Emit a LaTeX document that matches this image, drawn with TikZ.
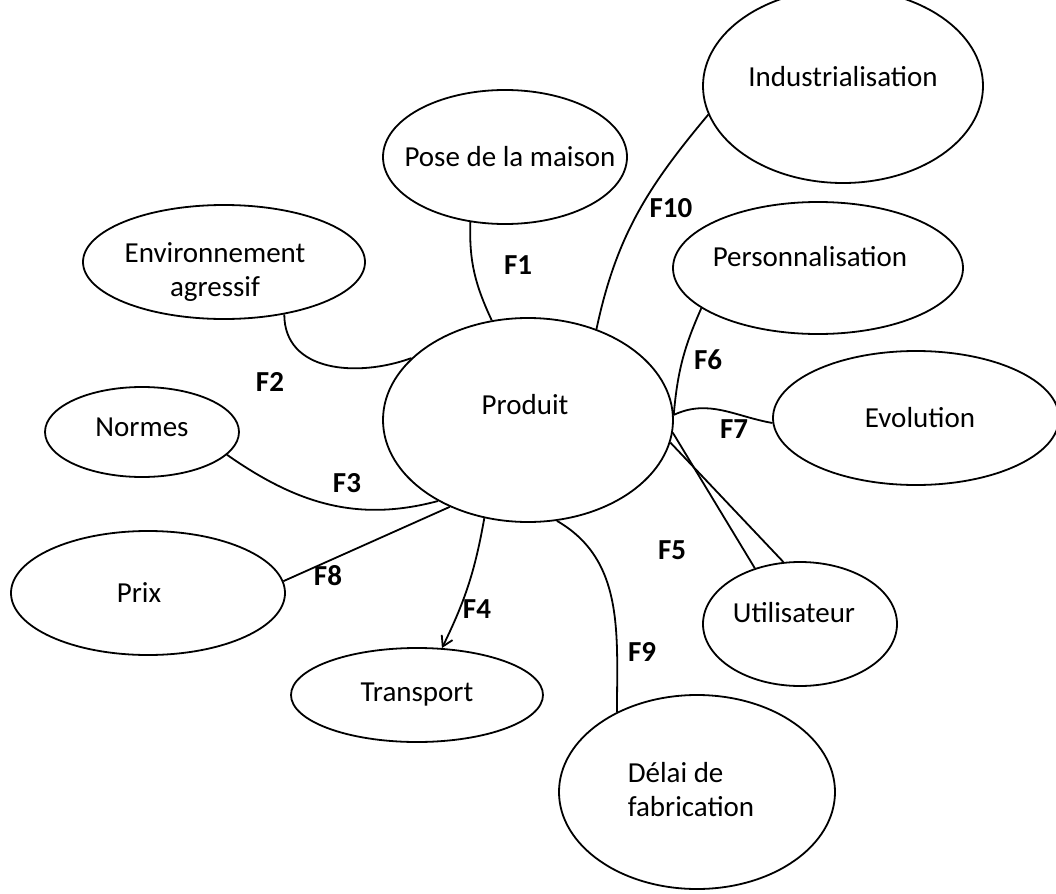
\documentclass[tikz,border=0pt]{standalone}
\usepackage{fontspec}
\setmainfont{Carlito}
\usetikzlibrary{shapes.geometric, arrows.meta}

\begin{document}
\begin{tikzpicture}
  [x=0.5pt, y=-0.5pt,
   every node/.style={font=\fontsize{14.5}{17}\selectfont},
   bubble/.style={draw, ellipse, inner sep=0pt, line width=0.9pt},
   fct/.style={font=\fontsize{14.5}{17}\selectfont\bfseries, inner sep=0pt},
   link/.style={line width=0.9pt}]
  \useasboundingbox (0,0) rectangle (1056,894);
  \clip (0,0) rectangle (1056,894);

  % bubbles
  \node[bubble, minimum width=145pt, minimum height=102pt,
        label={[xshift=-1.5pt, yshift=7.5pt]center:Produit}] (prod) at (528,420) {};
  \node[bubble, minimum width=122pt, minimum height=67pt,
        label={[xshift=2.5pt]center:Pose de la maison}] (pose) at (505,157) {};
  \node[bubble, minimum width=140pt, minimum height=97pt,
        label={[yshift=4.5pt]center:Industrialisation}] (indus) at (843,86) {};
  \node[bubble, minimum width=145pt, minimum height=66pt,
        label={[xshift=-4pt, yshift=5.5pt]center:Personnalisation}] (perso) at (818,268) {};
  \node[bubble, minimum width=141pt, minimum height=57pt,
        label={[xshift=-4.5pt, yshift=-5pt, align=center]center:Environnement\\agressif}] (env) at (224,262) {};
  \node[bubble, minimum width=97pt, minimum height=45pt,
        label={[yshift=2.5pt]center:Normes}] (normes) at (142,432) {};
  \node[bubble, minimum width=143pt, minimum height=67pt,
        label={[xshift=2pt]center:Evolution}] (evol) at (916,418) {};
  \node[bubble, minimum width=137pt, minimum height=62pt,
        label={[xshift=-4.5pt]center:Prix}] (prix) at (148,593) {};
  \node[bubble, minimum width=126pt, minimum height=47pt,
        label={center:Transport}] (transp) at (417,695) {};
  \node[bubble, minimum width=97pt, minimum height=62pt,
        label={[xshift=-3pt, yshift=5.5pt]center:Utilisateur}] (util) at (800,624) {};
  \node[bubble, minimum width=138pt, minimum height=97pt,
        label={[xshift=-3pt, yshift=1pt, align=left]center:D\'elai de\\fabrication}] (delai) at (697,792) {};

  % functions
  \node[fct] (f1) at (518,265) {F1};
  \node[fct] (f2) at (270,382) {F2};
  \node[fct] (f3) at (347,483) {F3};
  \node[fct] (f4) at (477,609) {F4};
  \node[fct] (f5) at (672,550) {F5};
  \node[fct] (f6) at (708,360) {F6};
  \node[fct] (f7) at (734,429) {F7};
  \node[fct] (f8) at (328,576) {F8};
  \node[fct] (f9) at (642,652) {F9};
  \node[fct] (f10) at (671,208) {F10};

  \draw[link] (pose.-118) to[out=-92, in=115] (prod.110);
  \draw[link] (env.-41) to[out=-90, in=200, looseness=1.1] (prod.152);
  \draw[link] (normes.-15) to[out=-35, in=195] (prod.-138);
  \draw[link] (prod.-132) -- (prix.5);
  \draw[link, -{Straight Barb[length=5pt, width=6pt]}] (prod.-114) to[bend left=8] (transp.62);
  \draw[link] (prod.-74) to[out=-30, in=90] (delai.135);
  \draw[link] (prod.-5) -- (util.129);
  \draw[link] (prod.-9) -- (util.105);
  \draw[link] (prod.2) to[out=25, in=170] (evol.-178);
  \draw[link] (prod.2) to[out=85, in=-114] (perso.-161);
  \draw[link] (prod.53) to[out=78, in=-130] (indus.-168);
\end{tikzpicture}
\end{document}
